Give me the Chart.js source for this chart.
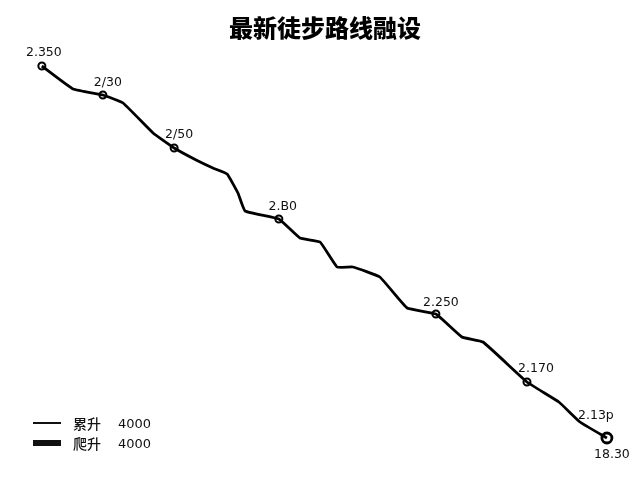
<!DOCTYPE html>
<html>
<head>
<meta charset="utf-8">
<script src="https://cdn.jsdelivr.net/npm/chart.js@4/dist/chart.umd.min.js"></script>
<style>
    body { margin: 0; background: #fff; }
    #wrap { position: relative; width: 640px; height: 480px; }
    #legend {
        position: absolute; left: 33px; top: 413px;
        font-family: "Noto Sans CJK SC", sans-serif; font-size: 14px; color: #111;
    }
    .row { display: flex; align-items: center; height: 20px; }
    .sw { width: 28px; background: #111; margin-right: 12px; }
    .name { width: 45px; font-weight: 500; }
    .val { font-family: "DejaVu Sans", sans-serif; font-size: 13px; }
</style>
</head>
<body>
<div id="wrap">
    <canvas id="routeChart"></canvas>
    <div id="legend"></div>
</div>
<script>
// ============================
// DATA
// ============================
const routeKm = [0.06, 1.07, 2.03, 2.68, 3.65, 4.33, 5.04, 5.58, 6.04, 6.39, 6.62, 7.71, 8.39,
    9.04, 9.59, 10.10, 10.97, 11.85, 12.78, 13.62, 14.30, 15.72, 16.75, 17.43, 18.30];
const routeElev = [2388, 2342, 2330, 2314, 2254, 2224, 2200, 2184, 2172, 2134, 2098, 2082, 2044,
    2036, 1986, 1986, 1966, 1904, 1892, 1846, 1836, 1756, 1716, 1676, 1644];

// waypoints with a marker (index into the route)
const markIdx = [0, 2, 5, 11, 18, 21, 24];
const markLabels = ["2.350", "2/30", "2/50", "2.B0", "2.250", "2.170", "2.13p"];
const endLabel = "18.30";

const legendNames = ["累升", "爬升"];
const legendValues = [4000, 4000];

// ============================
// LEGEND (html)
// ============================
const legendBox = document.getElementById("legend");
legendNames.forEach((name, i) => {
    const row = document.createElement("div");
    row.className = "row";
    row.innerHTML = `
        <span class="sw" style="height:${i === 0 ? 2 : 6}px"></span>
        <span class="name">${name}</span>
        <span class="val">${legendValues[i]}</span>
    `;
    legendBox.appendChild(row);
});

// ============================
// WAYPOINT LABELS
// ============================
const labelOffsets = [[2, -13], [5, -12], [5, -13], [4, -12], [5, -11], [9, -13], [-11, -22]];

const waypointLabels = {
    id: "waypointLabels",
    afterDatasetsDraw(chart) {
        const ctx = chart.ctx;
        const pts = chart.getDatasetMeta(1).data;
        ctx.save();
        ctx.fillStyle = "#111";
        ctx.font = "12.5px 'DejaVu Sans', sans-serif";
        ctx.textAlign = "center";
        ctx.textBaseline = "middle";
        pts.forEach((p, i) => {
            const [dx, dy] = labelOffsets[i];
            ctx.fillText(markLabels[i], p.x + dx, p.y + dy);
        });
        const last = pts[pts.length - 1];
        ctx.fillText(endLabel, last.x + 5, last.y + 17);
        ctx.restore();
    }
};

// ============================
// CHART
// ============================
const lastMark = markIdx.length - 1;

new Chart(document.getElementById("routeChart"), {
    type: "scatter",
    data: {
        datasets: [{
            data: routeKm.map((x, i) => ({ x: x, y: routeElev[i] })),
            showLine: true,
            borderColor: "#000",
            borderWidth: 2.8,
            borderJoinStyle: "round",
            pointRadius: 0,
            tension: 0.1,
            clip: false
        }, {
            data: markIdx.map(i => ({ x: routeKm[i], y: routeElev[i] })),
            showLine: false,
            backgroundColor: "#fff",
            borderColor: "#000",
            pointRadius: ctx => ctx.dataIndex === lastMark ? 5 : 3.5,
            borderWidth: ctx => ctx.dataIndex === lastMark ? 2.8 : 2,
            clip: false
        }]
    },
    options: {
        responsive: true,
        maintainAspectRatio: false,
        animation: false,
        layout: { padding: { left: 40, right: 30, top: 0, bottom: 40 } },
        plugins: {
            legend: { display: false },
            tooltip: { enabled: false },
            title: {
                display: true,
                text: "最新徒步路线融设",
                color: "#000",
                font: { family: "'Noto Sans CJK SC', sans-serif", size: 24, weight: 900, lineHeight: 1.2 },
                padding: { top: 13, bottom: 18.2 }
            }
        },
        scales: {
            x: { type: "linear", min: 0, max: 18.4, display: false },
            y: { min: 1640, max: 2400, display: false }
        }
    },
    plugins: [waypointLabels]
});
</script>
</body>
</html>
